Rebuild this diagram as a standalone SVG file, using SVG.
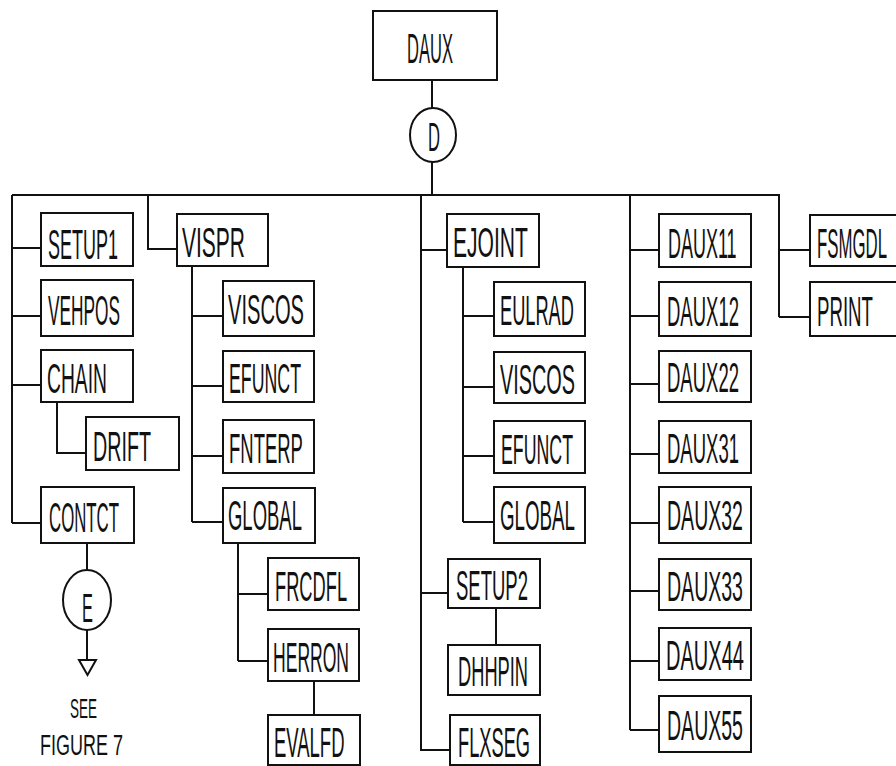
<svg xmlns="http://www.w3.org/2000/svg" width="896" height="766" viewBox="0 0 896 766">
<style>
.b{fill:#fff;stroke:#111;stroke-width:2}
.c{fill:none;stroke:#111;stroke-width:2}
.t{font-family:"Liberation Sans",Arial,sans-serif;font-size:42px;fill:#111}
.s{font-family:"Liberation Sans",Arial,sans-serif;fill:#111}
</style>
<rect width="896" height="766" fill="#fff"/>
<g id="connectors" class="c">
<path d="M432,80 V108 M432,162 V195 M12,195 H780"/>
<path d="M12,195 V523 M12,248 H41 M12,316 H41 M12,385 H41 M12,523 H41"/>
<path d="M57,402 V453 H86"/>
<path d="M87,543 V570 M87,630 V660"/>
<path d="M79,660 H96 L87.5,675 Z"/>
<path d="M148,195 V249 H177"/>
<path d="M192,266 V522 M192,316 H223 M192,386 H223 M192,456 H223 M192,522 H223"/>
<path d="M238,543 V661 M238,594 H268 M238,661 H268"/>
<path d="M314,681 V715"/>
<path d="M421,195 V750 H450 M421,250 H447 M421,593 H448"/>
<path d="M463,267 V522 M463,316 H494 M463,387 H494 M463,456 H494 M463,522 H494"/>
<path d="M496,608 V645"/>
<path d="M630,195 V730 M630,250 H659 M630,316 H659 M630,384 H659 M630,454 H659 M630,523 H659 M630,591 H659 M630,661 H659 M630,730 H659"/>
<path d="M779,195 V317 M779,250 H810 M779,317 H810"/>
</g>
<g id="DAUX"><rect class="b" x="373" y="11" width="124" height="69"/><text class="t" transform="translate(407,63) scale(0.394,1)">DAUX</text></g>
<g id="D"><ellipse class="b" cx="433" cy="135" rx="23" ry="27"/><text class="s" font-size="40" transform="translate(428,151) scale(0.415,1)">D</text></g>
<g id="SETUP1"><rect class="b" x="41" y="213" width="92" height="53"/><text class="t" transform="translate(48,259) scale(0.428,1)">SETUP1</text></g>
<g id="VEHPOS"><rect class="b" x="41" y="280" width="92" height="56"/><text class="t" transform="translate(48,325) scale(0.411,1)">VEHPOS</text></g>
<g id="CHAIN"><rect class="b" x="41" y="350" width="92" height="52"/><text class="t" transform="translate(47,393) scale(0.459,1)">CHAIN</text></g>
<g id="DRIFT"><rect class="b" x="86" y="417" width="93" height="53"/><text class="t" transform="translate(93,461) scale(0.469,1)">DRIFT</text></g>
<g id="CONTCT"><rect class="b" x="41" y="487" width="93" height="56"/><text class="t" transform="translate(49,532) scale(0.4,1)">CONTCT</text></g>
<g id="E"><ellipse class="b" cx="87" cy="600" rx="24" ry="30"/><text class="s" font-size="41" transform="translate(82,622) scale(0.4,1)">E</text></g>
<g id="see">
<text class="s" font-size="27" transform="translate(70,718) scale(0.5,1)">SEE</text>
<text class="s" font-size="30" transform="translate(40,755) scale(0.6,1)">FIGURE 7</text>
</g>
<g id="VISPR"><rect class="b" x="177" y="214" width="91" height="52"/><text class="t" transform="translate(182,257) scale(0.5,1)">VISPR</text></g>
<g id="VISCOS1"><rect class="b" x="223" y="281" width="91" height="55"/><text class="t" transform="translate(228,324) scale(0.479,1)">VISCOS</text></g>
<g id="EFUNCT1"><rect class="b" x="223" y="351" width="91" height="51"/><text class="t" transform="translate(229,393) scale(0.423,1)">EFUNCT</text></g>
<g id="FNTERP"><rect class="b" x="223" y="420" width="91" height="53"/><text class="t" transform="translate(229,463) scale(0.44,1)">FNTERP</text></g>
<g id="GLOBAL1"><rect class="b" x="223" y="488" width="92" height="55"/><text class="t" transform="translate(228,530) scale(0.44,1)">GLOBAL</text></g>
<g id="FRCDFL"><rect class="b" x="268" y="558" width="91" height="52"/><text class="t" transform="translate(275,601) scale(0.435,1)">FRCDFL</text></g>
<g id="HERRON"><rect class="b" x="268" y="629" width="91" height="52"/><text class="t" transform="translate(273,672) scale(0.418,1)">HERRON</text></g>
<g id="EVALFD"><rect class="b" x="268" y="715" width="92" height="50"/><text class="t" transform="translate(274,757) scale(0.44,1)">EVALFD</text></g>
<g id="EJOINT"><rect class="b" x="447" y="214" width="92" height="53"/><text class="t" transform="translate(453,257) scale(0.502,1)">EJOINT</text></g>
<g id="EULRAD"><rect class="b" x="494" y="282" width="91" height="54"/><text class="t" transform="translate(500,325) scale(0.434,1)">EULRAD</text></g>
<g id="VISCOS2"><rect class="b" x="494" y="352" width="91" height="51"/><text class="t" transform="translate(500,394) scale(0.473,1)">VISCOS</text></g>
<g id="EFUNCT2"><rect class="b" x="494" y="421" width="91" height="52"/><text class="t" transform="translate(501,464) scale(0.423,1)">EFUNCT</text></g>
<g id="GLOBAL2"><rect class="b" x="494" y="487" width="91" height="56"/><text class="t" transform="translate(500,530) scale(0.446,1)">GLOBAL</text></g>
<g id="SETUP2"><rect class="b" x="448" y="559" width="92" height="49"/><text class="t" transform="translate(456,600) scale(0.441,1)">SETUP2</text></g>
<g id="DHHPIN"><rect class="b" x="448" y="645" width="92" height="50"/><text class="t" transform="translate(458,686) scale(0.435,1)">DHHPIN</text></g>
<g id="FLXSEG"><rect class="b" x="450" y="715" width="90" height="50"/><text class="t" transform="translate(458,757) scale(0.435,1)">FLXSEG</text></g>
<g id="DAUX11"><rect class="b" x="659" y="214" width="92" height="53"/><text class="t" transform="translate(668,258) scale(0.428,1)">DAUX11</text></g>
<g id="DAUX12"><rect class="b" x="659" y="282" width="92" height="54"/><text class="t" transform="translate(667,326) scale(0.441,1)">DAUX12</text></g>
<g id="DAUX22"><rect class="b" x="659" y="351" width="92" height="51"/><text class="t" transform="translate(667,392) scale(0.441,1)">DAUX22</text></g>
<g id="DAUX31"><rect class="b" x="659" y="421" width="92" height="52"/><text class="t" transform="translate(667,463) scale(0.441,1)">DAUX31</text></g>
<g id="DAUX32"><rect class="b" x="659" y="487" width="92" height="56"/><text class="t" transform="translate(667,530) scale(0.465,1)">DAUX32</text></g>
<g id="DAUX33"><rect class="b" x="659" y="559" width="92" height="51"/><text class="t" transform="translate(667,601) scale(0.465,1)">DAUX33</text></g>
<g id="DAUX44"><rect class="b" x="659" y="628" width="92" height="52"/><text class="t" transform="translate(666,670) scale(0.477,1)">DAUX44</text></g>
<g id="DAUX55"><rect class="b" x="659" y="696" width="92" height="56"/><text class="t" transform="translate(667,740) scale(0.465,1)">DAUX55</text></g>
<g id="FSMGDL"><rect class="b" x="810" y="215" width="100" height="51"/><text class="t" transform="translate(817,258) scale(0.4,1)">FSMGDL</text></g>
<g id="PRINT"><rect class="b" x="810" y="282" width="100" height="54"/><text class="t" transform="translate(817,326) scale(0.444,1)">PRINT</text></g>
</svg>
